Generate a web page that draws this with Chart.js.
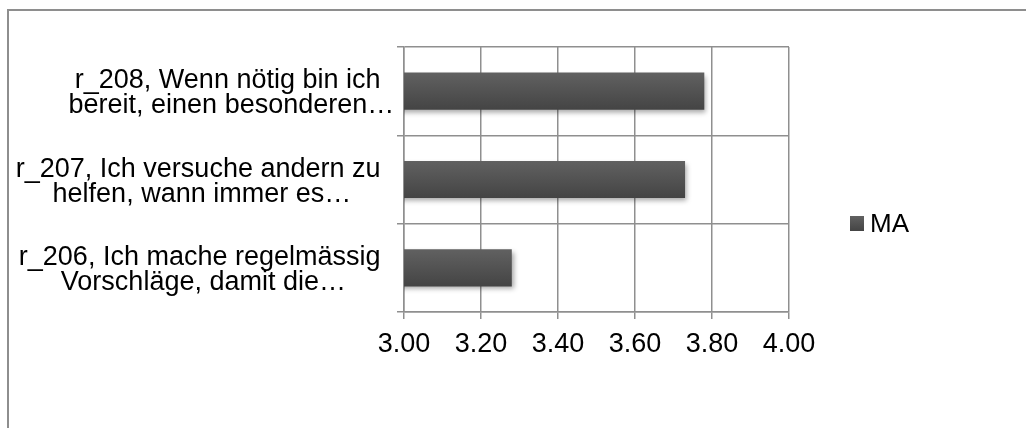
<!DOCTYPE html>
<html>
<head>
<meta charset="utf-8">
<script src="https://cdn.jsdelivr.net/npm/chart.js@4.4.1/dist/chart.umd.min.js"></script>
<style>
  html, body { margin: 0; padding: 0; background: #ffffff; }
  #wrap { width: 1026px; height: 428px; position: relative; }
</style>
</head>
<body>
<div id="wrap"><canvas id="chart" width="1026" height="428"></canvas></div>
<script>
// Item labels (already wrapped into lines), top to bottom
const categories = [
  ["r_208, Wenn nötig bin ich", "bereit, einen besonderen…"],
  ["r_207, Ich versuche andern zu", "helfen, wann immer es…"],
  ["r_206, Ich mache regelmässig", "Vorschläge, damit die…"]
];
const seriesName = "MA";
const maValues = [3.78, 3.73, 3.28];
const xTickValues = [3.00, 3.20, 3.40, 3.60, 3.80, 4.00];

const FONT = "'Liberation Sans', Arial, sans-serif";
const FONT_SIZE = 27;
const GRID = "#8f8f8f";

// Vertical grey gradient for each bar, spanning that bar's own height
function barFill(ctx) {
  const chart = ctx.chart;
  const ys = chart.scales.y;
  if (!ys || ctx.dataIndex === undefined) return "#555555";
  const c = ys.getPixelForValue(ctx.dataIndex);
  const half = Math.abs(ys.getPixelForValue(1) - ys.getPixelForValue(0)) * 0.42 / 2;
  if (!isFinite(c) || !isFinite(half) || half <= 0) return "#555555";
  const g = chart.ctx.createLinearGradient(0, c - half, 0, c + half);
  g.addColorStop(0, "#616161");
  g.addColorStop(1, "#444444");
  return g;
}

// Outer frame of the chart
const framePlugin = {
  id: "frame",
  beforeDraw(chart) {
    const ctx = chart.ctx;
    ctx.save();
    ctx.fillStyle = "#ffffff";
    ctx.fillRect(0, 0, chart.width, chart.height);
    ctx.strokeStyle = "#8e8e8e";
    ctx.lineWidth = 2;
    ctx.beginPath();
    ctx.moveTo(8, chart.height);
    ctx.lineTo(8, 10);
    ctx.lineTo(chart.width, 10);
    ctx.stroke();
    ctx.restore();
  }
};

// Soft drop shadow under the bars
const shadowPlugin = {
  id: "barShadow",
  beforeDatasetsDraw(chart) {
    const ctx = chart.ctx;
    ctx.save();
    ctx.shadowColor = "rgba(0,0,0,0.35)";
    ctx.shadowBlur = 5;
    ctx.shadowOffsetX = 2;
    ctx.shadowOffsetY = 3;
  },
  afterDatasetsDraw(chart) {
    chart.ctx.restore();
  }
};

// Category labels: each block right-aligned beside the axis, its lines centred.
// Block width is measured from the untruncated text (wrap space kept, ellipsis left out).
const labelPlugin = {
  id: "catLabels",
  afterDraw(chart) {
    const ctx = chart.ctx;
    const ys = chart.scales.y;
    const right = chart.chartArea.left - 16;
    const lineH = 25;
    ctx.save();
    ctx.font = FONT_SIZE + "px " + FONT;
    ctx.fillStyle = "#000000";
    ctx.textAlign = "left";
    ctx.textBaseline = "alphabetic";
    chart.data.labels.forEach((lines, i) => {
      const widths = lines.map((t, k) => ctx.measureText(k < lines.length - 1 ? t + " " : t).width);
      const blockW = Math.max(...lines.map((t, k) =>
        ctx.measureText(k < lines.length - 1 ? t + " " : t.replace(/…$/, "")).width));
      const cx = right - blockW / 2;
      const cy = ys.getPixelForValue(i);
      const first = cy - (lines.length - 1) * lineH / 2 + 9.5;
      lines.forEach((t, k) => {
        ctx.fillText(t, cx - widths[k] / 2, first + k * lineH);
      });
    });
    ctx.restore();
  }
};

// Legend entry to the right of the plot
const legendPlugin = {
  id: "sideLegend",
  afterDraw(chart) {
    const ctx = chart.ctx;
    const x = chart.chartArea.right + 61;
    const y = 216;
    ctx.save();
    const g = ctx.createLinearGradient(0, y, 0, y + 15);
    g.addColorStop(0, "#616161");
    g.addColorStop(1, "#444444");
    ctx.fillStyle = g;
    ctx.fillRect(x, y, 14, 15);
    ctx.font = "26px " + FONT;
    ctx.fillStyle = "#000000";
    ctx.textAlign = "left";
    ctx.textBaseline = "alphabetic";
    ctx.fillText(chart.data.datasets[0].label, x + 20, y + 16);
    ctx.restore();
  }
};

new Chart(document.getElementById("chart"), {
  type: "bar",
  data: {
    labels: categories,
    datasets: [{
      label: seriesName,
      data: maValues,
      backgroundColor: barFill,
      borderWidth: 0,
      categoryPercentage: 1.0,
      barPercentage: 0.42
    }]
  },
  options: {
    indexAxis: "y",
    responsive: false,
    devicePixelRatio: 1,
    animation: false,
    layout: { padding: { top: 47, right: 237, left: 0, bottom: 0 } },
    plugins: {
      legend: { display: false },
      tooltip: { enabled: false }
    },
    scales: {
      x: {
        type: "linear",
        min: 3,
        max: 4,
        afterBuildTicks: (s) => { s.ticks = xTickValues.map(v => ({ value: v })); },
        afterFit: (s) => { s.height = 116; },
        ticks: {
          callback: (v) => Number(v).toFixed(2),
          font: { family: FONT, size: FONT_SIZE },
          color: "#000000",
          padding: 9,
          maxRotation: 0,
          autoSkip: false
        },
        grid: { color: GRID, lineWidth: 1.5, tickLength: 7, drawTicks: true },
        border: { color: GRID, width: 1.5 }
      },
      y: {
        type: "category",
        offset: true,
        afterFit: (s) => { s.width = 404; },
        ticks: { display: false },
        grid: { offset: true, color: GRID, lineWidth: 1.5, tickLength: 7, drawTicks: true },
        border: { color: GRID, width: 1.5 }
      }
    }
  },
  plugins: [framePlugin, shadowPlugin, labelPlugin, legendPlugin]
});
</script>
</body>
</html>
